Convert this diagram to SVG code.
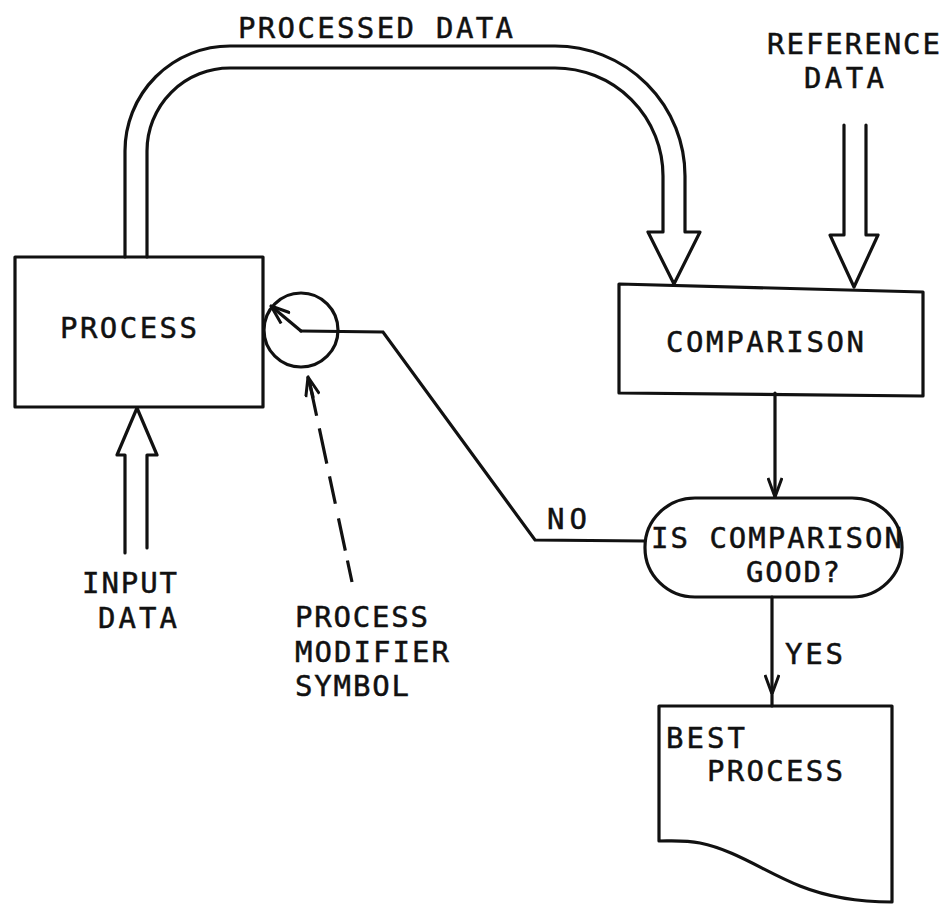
<svg xmlns="http://www.w3.org/2000/svg" width="950" height="904" viewBox="0 0 950 904">
  <style>
    .shape { fill: none; stroke: #111; stroke-width: 3.2; stroke-linejoin: round; stroke-linecap: round; }
    .line { fill: none; stroke: #111; stroke-width: 3.2; stroke-linecap: round; }
    .dash { fill: none; stroke: #111; stroke-width: 3.2; stroke-dasharray: 22 10 33 15 28 13 36 13 40; }
    .label { font-family: "DejaVu Sans Mono", "Liberation Mono", monospace; font-size: 29px; fill: #111; stroke: #111; stroke-width: 0.5; }
  </style>
  <defs>
    <marker id="open" viewBox="0 0 20 16" refX="20" refY="8" markerWidth="20" markerHeight="16" markerUnits="userSpaceOnUse" orient="auto">
      <path d="M1,1 L20,8 L1,15" fill="none" stroke="#111" stroke-width="3" stroke-linejoin="round"/>
    </marker>
  </defs>
  <rect width="950" height="904" fill="#fff"/>

  <!-- flow lines -->
  <g id="connectors">
    <!-- processed data: wide arrow from the process box over to the comparison box -->
    <path class="shape" d="M125,257 L125,151 A105,105 0 0 1 230,46 L555,46 A130,130 0 0 1 685,176 L685,232 L700,232 L674,284 L648,232 L663,232 L663,176 A108,108 0 0 0 555,68 L230,68 A83,83 0 0 0 147,151 L147,257"/>
    <!-- reference data -->
    <path class="shape" d="M844,125 L844,235 L830,235 L854,287 L878,235 L866,235 L866,125"/>
    <!-- input data -->
    <path class="shape" d="M125,553 L125,455 L117,455 L137,408 L157,455 L147,455 L147,548"/>
    <!-- comparison to decision -->
    <path class="line" d="M775,393 L775,497" marker-end="url(#open)"/>
    <!-- yes branch -->
    <path class="line" d="M772,597 L772,694 L772,706" marker-mid="url(#open)"/>
    <!-- no branch back to the modifier -->
    <path class="line" d="M645,541 L535,540 L383,332 L301,331"/>
    <path class="line" d="M301,331 L271,306" marker-end="url(#open)"/>
    <!-- pointer to the modifier symbol -->
    <path class="dash" d="M352,582 L309,380"/>
    <path class="line" d="M313,397 L308,377" marker-end="url(#open)"/>
  </g>

  <g id="label-processed-data">
    <text class="label" x="238" y="38" textLength="275" lengthAdjust="spacing">PROCESSED DATA</text>
  </g>
  <g id="label-reference-data">
    <text class="label" x="767" y="54" textLength="173" lengthAdjust="spacing">REFERENCE</text>
    <text class="label" x="804" y="88" textLength="80" lengthAdjust="spacing">DATA</text>
  </g>

  <g id="process">
    <rect class="shape" x="15" y="257" width="248" height="150"/>
    <text class="label" x="60" y="338" textLength="137" lengthAdjust="spacing">PROCESS</text>
  </g>

  <g id="modifier">
    <circle class="shape" cx="301" cy="330" r="37"/>
  </g>

  <g id="comparison">
    <path class="shape" d="M619,284 L923,292 L923,396 L619,393 Z"/>
    <text class="label" x="666" y="352" textLength="198" lengthAdjust="spacing">COMPARISON</text>
  </g>

  <g id="decision">
    <rect class="shape" x="645" y="498" width="257" height="99" rx="50" ry="49"/>
    <text class="label" x="651" y="548" textLength="251" lengthAdjust="spacing">IS COMPARISON</text>
    <text class="label" x="746" y="582" textLength="94" lengthAdjust="spacing">GOOD?</text>
  </g>

  <g id="label-no">
    <text class="label" x="547" y="529" textLength="40" lengthAdjust="spacing">NO</text>
  </g>
  <g id="label-yes">
    <text class="label" x="785" y="664" textLength="58" lengthAdjust="spacing">YES</text>
  </g>

  <g id="best-process">
    <path class="shape" d="M659,706 L892,706 L892,902 C860,902 830,898 800,886 C765,872 735,850 700,843 C685,840 672,841 659,841 Z"/>
    <text class="label" x="666" y="748" textLength="79" lengthAdjust="spacing">BEST</text>
    <text class="label" x="707" y="781" textLength="136" lengthAdjust="spacing">PROCESS</text>
  </g>

  <g id="label-input-data">
    <text class="label" x="82" y="593" textLength="95" lengthAdjust="spacing">INPUT</text>
    <text class="label" x="98" y="628" textLength="79" lengthAdjust="spacing">DATA</text>
  </g>

  <g id="label-modifier-symbol">
    <text class="label" x="295" y="627" textLength="133" lengthAdjust="spacing">PROCESS</text>
    <text class="label" x="295" y="662" textLength="154" lengthAdjust="spacing">MODIFIER</text>
    <text class="label" x="295" y="696" textLength="114" lengthAdjust="spacing">SYMBOL</text>
  </g>
</svg>
